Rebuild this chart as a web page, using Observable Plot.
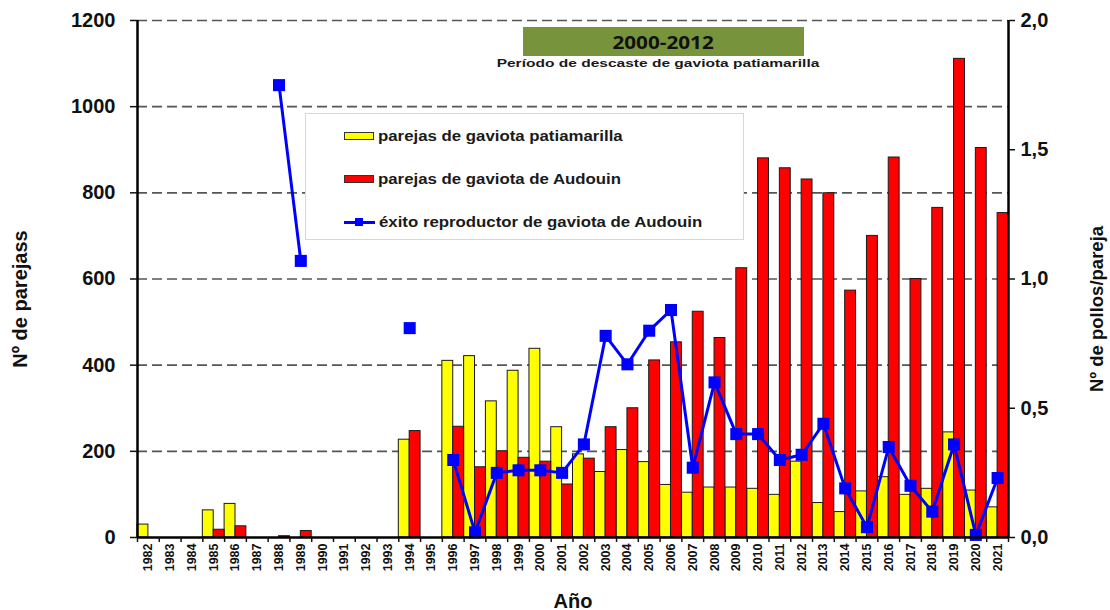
<!DOCTYPE html>
<html>
<head>
<meta charset="utf-8">
<script src="https://cdn.jsdelivr.net/npm/d3@7"></script>
<script src="https://cdn.jsdelivr.net/npm/@observablehq/plot@0.6"></script>
<style>
  html, body { margin: 0; padding: 0; background: #fff; }
  #wrap { position: relative; width: 1110px; height: 610px; font-family: "Liberation Sans", Arial, sans-serif; }
  #legend { position: absolute; left: 305px; top: 113px; width: 439px; height: 127px; background: #fff; border: 1px solid #d8d8d8; box-sizing: border-box; }
  .lrow { position: absolute; left: 38px; height: 20px; display: flex; align-items: center; font-weight: bold; font-size: 14px; color: #1a1a1a; white-space: nowrap; }
  .lrow span { display: inline-block; transform: scaleX(1.2); transform-origin: left center; }
  .sw { width: 28px; height: 6px; border: 1.5px solid #333; margin-right: 4px; }
  .lsw { position: relative; width: 31px; height: 8px; margin-right: 4px; }
  .lsw .ln { position: absolute; left: 0; right: 0; top: 3px; height: 2.5px; background: #0000ff; }
  .lsw .sq { position: absolute; left: 11px; top: 0; width: 8px; height: 8px; background: #0000ff; }
  #period { position: absolute; left: 523px; top: 27px; width: 281px; height: 29px; background: #77933c; color: #111; font-family: "Open Sans", "Liberation Sans", sans-serif; font-weight: bold; font-size: 18px; display: flex; align-items: center; justify-content: center; }
  #period span { display: inline-block; transform: scaleX(1.15); }
  #periodSub { position: absolute; left: 458px; top: 57px; width: 400px; text-align: center; font-weight: bold; font-size: 11.5px; color: #1a1a1a; transform: scaleX(1.35); transform-origin: center; }
</style>
</head>
<body>
<div id="wrap"></div>
<script>
const years = [1982,1983,1984,1985,1986,1987,1988,1989,1990,1991,1992,1993,1994,1995,1996,1997,1998,1999,2000,2001,2002,2003,2004,2005,2006,2007,2008,2009,2010,2011,2012,2013,2014,2015,2016,2017,2018,2019,2020,2021];
// parejas de gaviota patiamarilla
const yellowPairs = [30,0,0,63,78,0,0,0,0,0,0,0,227,0,410,421,316,387,438,256,193,152,203,175,122,104,116,116,113,99,176,80,59,107,140,99,113,244,109,70];
// parejas de gaviota de Audouin
const redPairs = [0,0,0,18,26,0,3,15,0,0,0,0,247,0,257,163,200,185,176,123,183,256,300,411,453,524,463,625,880,857,831,799,573,700,882,600,765,1111,904,753];
// éxito reproductor de gaviota de Audouin (pollos/pareja)
const exito = [null,null,null,null,null,null,1.75,1.07,null,null,null,null,0.81,null,0.30,0.02,0.25,0.26,0.26,0.25,0.36,0.78,0.67,0.80,0.88,0.27,0.60,0.40,0.40,0.30,0.32,0.44,0.19,0.04,0.35,0.20,0.10,0.36,0.01,0.23];
const leftTicks = [0,200,400,600,800,1000,1200];
const rightTicks = [0,0.5,1.0,1.5,2.0];
const rightMax = 2.0, leftMax = 1200;

const rows = years.map((year, i) => ({year, yellow: yellowPairs[i], red: redPairs[i], exito: exito[i]}));
const ratio = leftMax / rightMax;
const boundaries = years.map(y => y - 0.5).concat([years[years.length - 1] + 0.5]);

const chart = Plot.plot({
  width: 1110, height: 610,
  marginLeft: 137, marginRight: 102, marginTop: 20, marginBottom: 73,
  x: {domain: [years[0] - 0.5, years[years.length - 1] + 0.5]},
  y: {domain: [0, leftMax]},
  style: {fontFamily: "'Liberation Sans', Arial, sans-serif", fontWeight: "bold", color: "#111", background: "transparent"},
  marks: [
    Plot.gridY(leftTicks.filter(d => d > 0), {stroke: "#555", strokeOpacity: 1, strokeWidth: 1.6, strokeDasharray: "10,5"}),
    Plot.rectY(rows.filter(d => d.yellow > 0), {x1: d => d.year - 0.5, x2: d => d.year, y: "yellow", fill: "#ffff00", stroke: "#1a1a1a", strokeWidth: 1}),
    Plot.rectY(rows.filter(d => d.red > 0), {x1: d => d.year, x2: d => d.year + 0.5, y: "red", fill: "#ff0000", stroke: "#1a1a1a", strokeWidth: 1}),
    Plot.line(rows, {x: "year", y: d => d.exito == null ? null : d.exito * ratio, stroke: "#0000ff", strokeWidth: 3}),
    Plot.dot(rows.filter(d => d.exito != null), {x: "year", y: d => d.exito * ratio, symbol: "square", fill: "#0000ff", r: 6.8}),
    Plot.ruleY([0], {stroke: "#000", strokeWidth: 2.5}),
    Plot.ruleX([boundaries[0], boundaries[boundaries.length - 1]], {stroke: "#000", strokeWidth: 2.5}),
    Plot.axisY({ticks: leftTicks, tickFormat: d => String(d), tickSize: 7, tickPadding: 15, fontSize: 20, fontWeight: "bold", label: null, strokeWidth: 1.5}),
    Plot.axisY({anchor: "right", ticks: rightTicks.map(v => v * ratio), tickFormat: d => (d / ratio).toFixed(1).replace(".", ","), tickSize: 6, tickPadding: 6, fontSize: 20, fontWeight: "bold", label: null, strokeWidth: 1.5}),
    Plot.axisX({ticks: years, tickSize: 0, tickRotate: -90, tickPadding: 6, fontSize: 12.5, fontWeight: "bold", tickFormat: d => String(d), label: null}),
    Plot.axisX({ticks: boundaries, tickSize: 5, tickFormat: () => "", label: null, strokeWidth: 1.5}),
    Plot.text(["Nº de parejass"], {text: d => d, frameAnchor: "left", dx: -117, dy: 20, rotate: -90, textAnchor: "middle", fontSize: 20, fontWeight: "bold"}),
    Plot.text(["Nº de pollos/pareja"], {text: d => d, frameAnchor: "right", dx: 89, dy: 30, rotate: -90, textAnchor: "middle", fontSize: 18.5, fontWeight: "bold"}),
    Plot.text(["Año"], {text: d => d, frameAnchor: "bottom", dy: 70, textAnchor: "middle", fontSize: 20, fontWeight: "bold"})
  ]
});
const wrap = document.getElementById("wrap");
wrap.appendChild(chart);

const legendItems = [
  {label: "parejas de gaviota patiamarilla", kind: "bar", color: "#ffff00"},
  {label: "parejas de gaviota de Audouin", kind: "bar", color: "#ff0000"},
  {label: "éxito reproductor de gaviota de Audouin", kind: "line", color: "#0000ff"}
];
const legend = document.createElement("div");
legend.id = "legend";
legendItems.forEach((it, i) => {
  const row = document.createElement("div");
  row.className = "lrow";
  row.style.top = (12 + i * 43) + "px";
  if (it.kind === "bar") {
    const s = document.createElement("div"); s.className = "sw"; s.style.background = it.color; row.appendChild(s);
  } else {
    const s = document.createElement("div"); s.className = "lsw";
    s.innerHTML = '<div class="ln"></div><div class="sq"></div>'; row.appendChild(s);
  }
  const t = document.createElement("span"); t.textContent = it.label; row.appendChild(t);
  legend.appendChild(row);
});
wrap.appendChild(legend);

const period = document.createElement("div"); period.id = "period";
const ps = document.createElement("span"); ps.textContent = "2000-2012"; period.appendChild(ps); wrap.appendChild(period);
const sub = document.createElement("div"); sub.id = "periodSub"; sub.textContent = "Período de descaste de gaviota patiamarilla"; wrap.appendChild(sub);
const svg = wrap.querySelector("svg"); svg.style.position = "absolute"; svg.style.left = "0"; svg.style.top = "0";
</script>
</body>
</html>
